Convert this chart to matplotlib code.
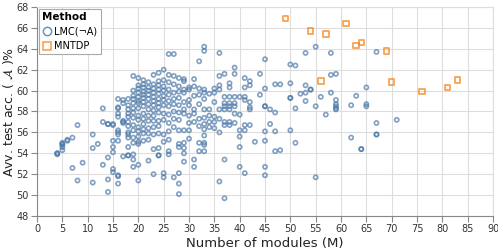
import matplotlib
matplotlib.use("Agg")
import matplotlib.pyplot as plt
from matplotlib.lines import Line2D

# MNTDP results (orange squares)
mntdp_modules = [49, 54, 57, 56, 61, 63, 64, 69, 70, 76, 81, 83]
mntdp_acc = [66.9, 65.7, 65.4, 60.9, 66.4, 64.3, 64.6, 63.8, 60.8, 59.9, 60.3, 61.0]

# LMC(-A) results (blue circles), one line per module count
lmc_modules = [
    4, 4, 4,
    5, 5, 5, 5, 5,
    6, 6,
    7, 7,
    8, 8,
    9,
    11, 11, 11,
    12,
    13, 13, 13,
    14, 14, 14, 14, 14,
    15, 15, 15, 15, 15, 15, 15,
    16, 16, 16, 16, 16, 16, 16, 16, 16, 16, 16, 16,
    17, 17, 17, 17, 17, 17,
    18, 18, 18, 18, 18, 18, 18, 18, 18, 18, 18, 18, 18,
    19, 19, 19, 19, 19, 19, 19, 19, 19, 19, 19, 19, 19, 19, 19,
    20, 20, 20, 20, 20, 20, 20, 20, 20, 20, 20, 20, 20, 20, 20, 20, 20,
    21, 21, 21, 21, 21, 21, 21, 21, 21, 21, 21, 21, 21, 21,
    22, 22, 22, 22, 22, 22, 22, 22, 22, 22, 22, 22, 22,
    23, 23, 23, 23, 23, 23, 23, 23, 23, 23, 23, 23, 23, 23,
    24, 24, 24, 24, 24, 24, 24, 24, 24, 24, 24, 24, 24, 24, 24,
    25, 25, 25, 25, 25, 25, 25, 25, 25, 25, 25, 25, 25,
    26, 26, 26, 26, 26, 26, 26, 26, 26, 26, 26, 26, 26,
    27, 27, 27, 27, 27, 27, 27, 27, 27, 27,
    28, 28, 28, 28, 28, 28, 28, 28, 28, 28, 28, 28, 28,
    29, 29, 29, 29, 29, 29, 29, 29, 29, 29, 29, 29,
    30, 30, 30, 30, 30, 30, 30, 30,
    31, 31, 31, 31, 31, 31, 31, 31,
    32, 32, 32, 32, 32, 32, 32, 32,
    33, 33, 33, 33, 33, 33, 33, 33, 33, 33, 33, 33, 33,
    34, 34, 34, 34, 34,
    35, 35, 35, 35, 35, 35,
    36, 36, 36, 36, 36, 36, 36, 36,
    37, 37, 37, 37, 37, 37, 37, 37, 37,
    38, 38, 38, 38, 38, 38, 38, 38,
    39, 39, 39, 39, 39, 39, 39,
    40, 40, 40, 40, 40, 40,
    41, 41, 41, 41, 41, 41, 41,
    42, 42, 42, 42, 42, 42,
    43,
    44, 44,
    45, 45, 45, 45, 45, 45, 45, 45,
    46, 46,
    47, 47, 47, 47,
    48, 48,
    50, 50, 50, 50, 50,
    51, 51, 51,
    52,
    53, 53, 53, 53,
    54, 54,
    55, 55, 55,
    56,
    57,
    58, 58, 58,
    59, 59, 59, 59, 59, 59,
    62, 62,
    63,
    64, 64,
    65, 65, 65,
    67, 67, 67, 67,
    71,
]
lmc_acc = [
    54.0, 54.0, 53.9,
    54.3, 54.6, 54.8, 55.0, 54.9,
    55.2, 55.3,
    55.5, 52.6,
    56.7, 51.4,
    53.1,
    55.8, 54.5, 51.2,
    54.9,
    58.3, 57.0, 52.9,
    56.8, 56.8, 53.6, 51.5, 50.3,
    56.8, 56.7, 55.2, 54.6, 54.1, 52.5, 52.2,
    59.2, 58.4, 58.3, 57.8, 57.5, 56.2, 56.0, 55.8, 55.2, 51.9, 51.8, 51.1,
    59.1, 58.8, 57.1, 56.9, 57.0, 53.7,
    59.2, 58.6, 58.2, 57.8, 57.5, 57.0, 56.6, 56.0, 55.8, 55.5, 54.6, 53.8, 53.8,
    61.4, 60.0, 59.5, 59.2, 58.8, 58.3, 57.9, 57.4, 56.7, 56.2, 55.5, 55.0, 53.9, 53.4, 52.7,
    61.2, 60.5, 60.2, 59.8, 59.4, 59.0, 58.8, 58.3, 57.6, 57.2, 56.5, 56.1, 55.6, 55.1, 54.9, 52.9, 51.4,
    61.0, 60.6, 60.3, 59.9, 59.6, 59.3, 58.9, 58.5, 57.8, 57.3, 56.8, 56.3, 55.9, 55.2,
    60.8, 60.3, 60.0, 59.6, 59.2, 58.7, 58.2, 57.6, 57.1, 56.4, 55.9, 55.3, 53.3,
    61.5, 60.6, 60.2, 59.8, 59.4, 59.0, 58.6, 58.1, 57.6, 57.1, 56.5, 55.8, 54.4, 52.0,
    61.7, 60.9, 60.5, 60.1, 59.7, 59.2, 58.8, 58.4, 57.9, 57.1, 56.6, 55.9, 54.5, 53.8, 53.8,
    62.0, 61.0, 60.4, 60.0, 59.5, 59.1, 58.6, 57.8, 57.2, 55.8, 55.1, 52.1, 51.7,
    63.5, 61.5, 60.8, 60.1, 59.6, 59.0, 58.5, 57.7, 56.9, 56.1, 55.3, 54.2, 53.9,
    63.5, 61.4, 60.6, 59.8, 59.2, 58.7, 58.0, 57.3, 56.5, 51.7,
    61.2, 60.4, 59.9, 59.3, 58.6, 57.9, 57.2, 56.2, 54.9, 54.6, 52.1, 51.1, 50.1,
    61.1, 60.9, 60.1, 59.8, 58.9, 58.2, 57.8, 56.2, 55.0, 54.5, 54.0, 53.2,
    60.3, 60.1, 59.1, 58.6, 57.6, 56.9, 56.2, 55.4,
    61.1, 60.4, 59.5, 58.2, 57.8, 57.0, 53.4, 52.7,
    62.8, 60.2, 59.6, 58.7, 57.3, 56.6, 55.0, 54.2,
    64.2, 63.8, 60.1, 59.8, 59.2, 58.2, 57.4, 56.8, 56.3, 55.7, 55.0, 54.8, 54.2,
    59.7, 58.2, 57.6, 57.0, 56.5,
    60.2, 59.8, 58.9, 57.5, 57.0, 56.4,
    63.6, 61.4, 60.5, 60.1, 58.2, 57.3, 56.0, 51.3,
    61.6, 59.4, 58.8, 58.5, 58.2, 57.0, 56.7, 53.4, 49.7,
    60.7, 60.3, 59.4, 58.8, 58.5, 58.2, 57.0, 56.7,
    62.2, 61.6, 59.4, 58.8, 58.5, 57.8, 56.9,
    59.4, 57.7, 56.2, 55.6, 54.6, 52.7,
    61.2, 60.3, 59.4, 59.1, 56.7, 56.2, 52.1,
    60.9, 60.5, 58.9, 58.4, 58.2, 56.7,
    55.1,
    61.6, 59.6,
    63.0, 60.2, 58.5, 58.5, 56.1, 55.2, 52.7, 51.9,
    58.2, 56.8,
    60.6, 57.9, 56.1, 54.2,
    60.6, 54.3,
    62.5, 60.7, 59.3, 59.3, 56.2,
    62.4, 58.3, 55.0,
    59.7,
    63.6, 60.5, 59.8, 59.0,
    60.1, 60.1,
    64.2, 58.5, 51.7,
    59.4,
    57.7,
    63.6, 61.5, 59.8,
    61.6, 59.1, 58.7, 58.5, 58.3, 58.2,
    58.6, 55.5,
    59.5,
    54.4, 54.4,
    60.3, 58.7, 58.5,
    63.7, 56.9, 55.8, 55.8,
    57.2,
]

x_ticks = list(range(0, 91, 5))
y_ticks = list(range(48, 69, 2))

BLUE = "#4c78a8"
ORANGE = "#f58518"

fig = plt.figure(figsize=(4.98, 2.49), dpi=100)
ax = fig.add_axes([0.0743, 0.1325, 0.9157, 0.8395])

ax.scatter(lmc_modules, lmc_acc, s=9, facecolors="none", edgecolors=BLUE,
           linewidths=1.2, alpha=0.7, zorder=3)
ax.scatter(mntdp_modules, mntdp_acc, s=16, marker="s", facecolors="none",
           edgecolors=ORANGE, linewidths=1.3, alpha=0.75, zorder=3)

ax.set_xlim(0, 90)
ax.set_ylim(48, 68)
ax.set_xticks(x_ticks)
ax.set_yticks(y_ticks)
ax.grid(True, color="#dddddd", lw=0.8, zorder=0)
ax.set_axisbelow(True)
for s in ax.spines.values():
    s.set_color("#dddddd")
ax.spines["left"].set_color("#888888")
ax.spines["bottom"].set_color("#888888")
ax.tick_params(axis="both", labelsize=7, colors="#888888", labelcolor="#333333",
               length=4, width=0.8, pad=2)

ax.set_xlabel("Number of modules (M)", fontsize=9.5, color="#222222", labelpad=2)
ax.set_ylabel(r"Avv. test acc. ( $\mathcal{A}$ )%", fontsize=9, color="#222222")
ax.yaxis.set_label_coords(-0.047, 0.5)

handles = [
    Line2D([], [], marker="o", ls="", markersize=6, markerfacecolor="none",
           markeredgecolor=BLUE, markeredgewidth=1.1, alpha=0.8, label="LMC(\u00acA)"),
    Line2D([], [], marker="s", ls="", markersize=6, markerfacecolor="none",
           markeredgecolor=ORANGE, markeredgewidth=1.1, alpha=0.8, label="MNTDP"),
]
leg = ax.legend(handles=handles, title="Method", loc="upper left",
                fontsize=7, title_fontsize=7.5, frameon=True, fancybox=False,
                borderpad=0.35, handletextpad=0.3, labelspacing=0.45,
                handlelength=0.9, borderaxespad=0.2, alignment="left",
                framealpha=1.0)
leg.get_title().set_fontweight("bold")
leg.get_frame().set_edgecolor("#aaaaaa")
leg.get_frame().set_linewidth(0.8)

fig.savefig("out.png", dpi=100)
